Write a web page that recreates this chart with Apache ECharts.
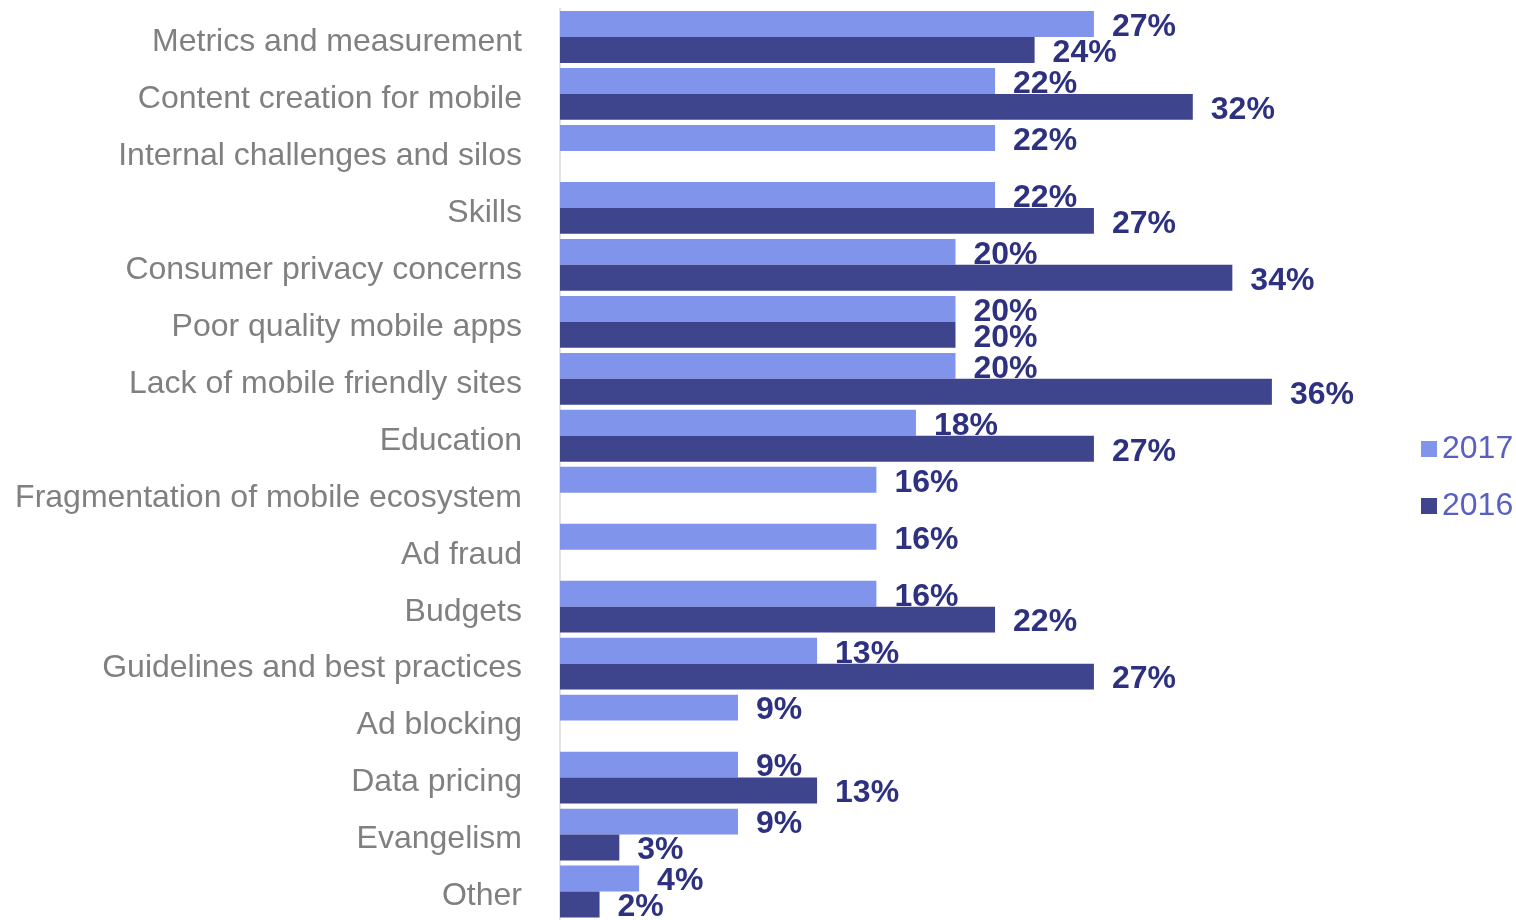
<!DOCTYPE html>
<html>
<head>
<meta charset="utf-8">
<script src="https://cdn.jsdelivr.net/npm/echarts@6/dist/echarts.min.js"></script>
<style>
  html, body { margin: 0; padding: 0; background: #fff; }
  #chart { width: 1516px; height: 920px; }
</style>
</head>
<body>
<div id="chart"></div>
<script>
// categories, top to bottom
var categories = [
  "Metrics and measurement",
  "Content creation for mobile",
  "Internal challenges and silos",
  "Skills",
  "Consumer privacy concerns",
  "Poor quality mobile apps",
  "Lack of mobile friendly sites",
  "Education",
  "Fragmentation of mobile ecosystem",
  "Ad fraud",
  "Budgets",
  "Guidelines and best practices",
  "Ad blocking",
  "Data pricing",
  "Evangelism",
  "Other"
];
var values2017 = [27, 22, 22, 22, 20, 20, 20, 18, 16, 16, 16, 13, 9, 9, 9, 4];
var values2016 = [24, 32, null, 27, 34, 20, 36, 27, null, null, 22, 27, null, 13, 3, 2];

var labelStyle = {
  show: true,
  position: "right",
  distance: 18,
  offset: [0, 3],
  formatter: "{c}%",
  color: "#2E3180",
  fontSize: 32,
  fontWeight: "bold",
  fontFamily: "Liberation Sans"
};

var chart = echarts.init(document.getElementById("chart"));
chart.setOption({
  animation: false,
  legend: {
    orient: "vertical",
    left: 1416,
    top: 428,
    itemWidth: 16,
    itemHeight: 16,
    itemGap: 25,
    icon: "rect",
    textStyle: {
      color: "#5A60C2",
      fontSize: 32,
      fontFamily: "Liberation Sans"
    },
    data: ["2017", "2016"]
  },
  grid: {
    left: 560,
    right: 165,
    top: 8.5,
    bottom: -3.5
  },
  xAxis: {
    type: "value",
    min: 0,
    max: 40,
    show: false
  },
  yAxis: {
    type: "category",
    inverse: true,
    data: categories,
    axisTick: { show: false },
    axisLine: { lineStyle: { color: "#E3E3E3", width: 2 } },
    axisLabel: {
      color: "#808080",
      fontSize: 32,
      fontFamily: "Liberation Sans",
      margin: 38,
      verticalAlign: "top",
      lineHeight: 10
    }
  },
  series: [
    {
      name: "2017",
      type: "bar",
      data: values2017,
      barGap: "0%",
      barCategoryGap: "9%",
      itemStyle: { color: "#8094EC" },
      label: labelStyle
    },
    {
      name: "2016",
      type: "bar",
      data: values2016,
      itemStyle: { color: "#3E458C" },
      label: labelStyle
    }
  ]
});
</script>
</body>
</html>
